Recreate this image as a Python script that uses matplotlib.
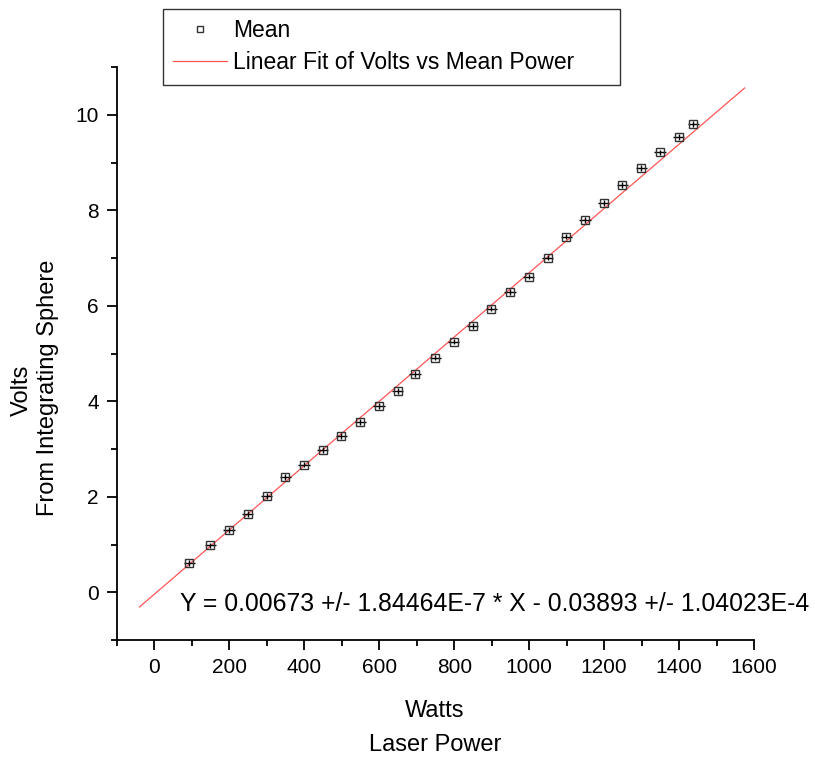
import matplotlib
matplotlib.use("Agg")
import matplotlib.pyplot as plt
from matplotlib.ticker import MultipleLocator
import numpy as np

plt.rcParams['font.family'] = ['Liberation Sans', 'DejaVu Sans']

watts = [93, 149, 199, 249, 299, 349, 399, 449, 499, 549, 599, 649, 695, 749,
         799, 849, 899, 949, 999, 1049, 1099, 1149, 1199, 1249, 1299, 1349, 1399, 1438]
volts = [0.616, 0.981, 1.303, 1.645, 2.023, 2.41, 2.675, 2.977, 3.27, 3.571, 3.90, 4.22,
         4.565, 4.916, 5.25, 5.58, 5.94, 6.29, 6.61, 7.01, 7.45, 7.79, 8.145, 8.536,
         8.88, 9.21, 9.54, 9.80]
watts_err = [15] * len(watts)
volts_err = [0.06] * len(volts)

slope = 0.00673
intercept = -0.03893
fit_x = np.array([-40, 1575])
fit_y = slope * fit_x + intercept

fig = plt.figure(figsize=(8.15, 7.59), dpi=100)
ax = fig.add_axes([117/815, 1-640/759, (754-117)/815, (640-67)/759])

ax.errorbar(watts, volts, xerr=watts_err, yerr=volts_err, fmt='none',
            ecolor='black', elinewidth=1.0, capsize=0, zorder=3)
pts, = ax.plot(watts, volts, 's', ms=5.5, mfc='none', mec='#333333', mew=1.0,
               zorder=4, label='Mean')
fl, = ax.plot(fit_x, fit_y, color='#ff5555', lw=0.9, zorder=2,
              label='Linear Fit of Volts vs Mean Power')

ax.set_xlim(-100, 1600)
ax.set_ylim(-1, 11)
ax.xaxis.set_major_locator(MultipleLocator(200))
ax.xaxis.set_minor_locator(MultipleLocator(100))
ax.yaxis.set_major_locator(MultipleLocator(2))
ax.yaxis.set_minor_locator(MultipleLocator(1))
for s in ['top', 'right']:
    ax.spines[s].set_visible(False)
for s in ['left', 'bottom']:
    ax.spines[s].set_linewidth(1.3)
ax.tick_params(which='major', direction='out', length=7, width=1.3, labelsize=15, pad=6)
ax.tick_params(which='minor', direction='out', length=4, width=1.3)

ax.text(68, -0.25, 'Y = 0.00673 +/- 1.84464E-7 * X - 0.03893 +/- 1.04023E-4',
        fontsize=17.8, ha='left', va='center', clip_on=False)

fig.text(435/815, 1-711/759, 'Watts', fontsize=17, ha='center', va='center')
fig.text(435/815, 1-745/759, 'Laser Power', fontsize=17, ha='center', va='center')
fig.text(22/815, 1-390/759, 'Volts', fontsize=17, ha='center', va='center', rotation=90)
fig.text(48/815, 1-388/759, 'From Integrating Sphere', fontsize=17, ha='center',
         va='center', rotation=90)

leg = fig.legend(handles=[pts, fl], loc='upper left', mode='expand',
                 bbox_to_anchor=(163/815, 1-84/759, 457/815, 75/759), fontsize=16.5,
                 frameon=True, fancybox=False, edgecolor='black', borderpad=0.45,
                 handlelength=2.35, handletextpad=0.25, labelspacing=0.4,
                 borderaxespad=0)
leg.get_frame().set_linewidth(1.0)
leg.legend_handles[0].set_markersize(5)

fig.savefig('out.png', dpi=100)
